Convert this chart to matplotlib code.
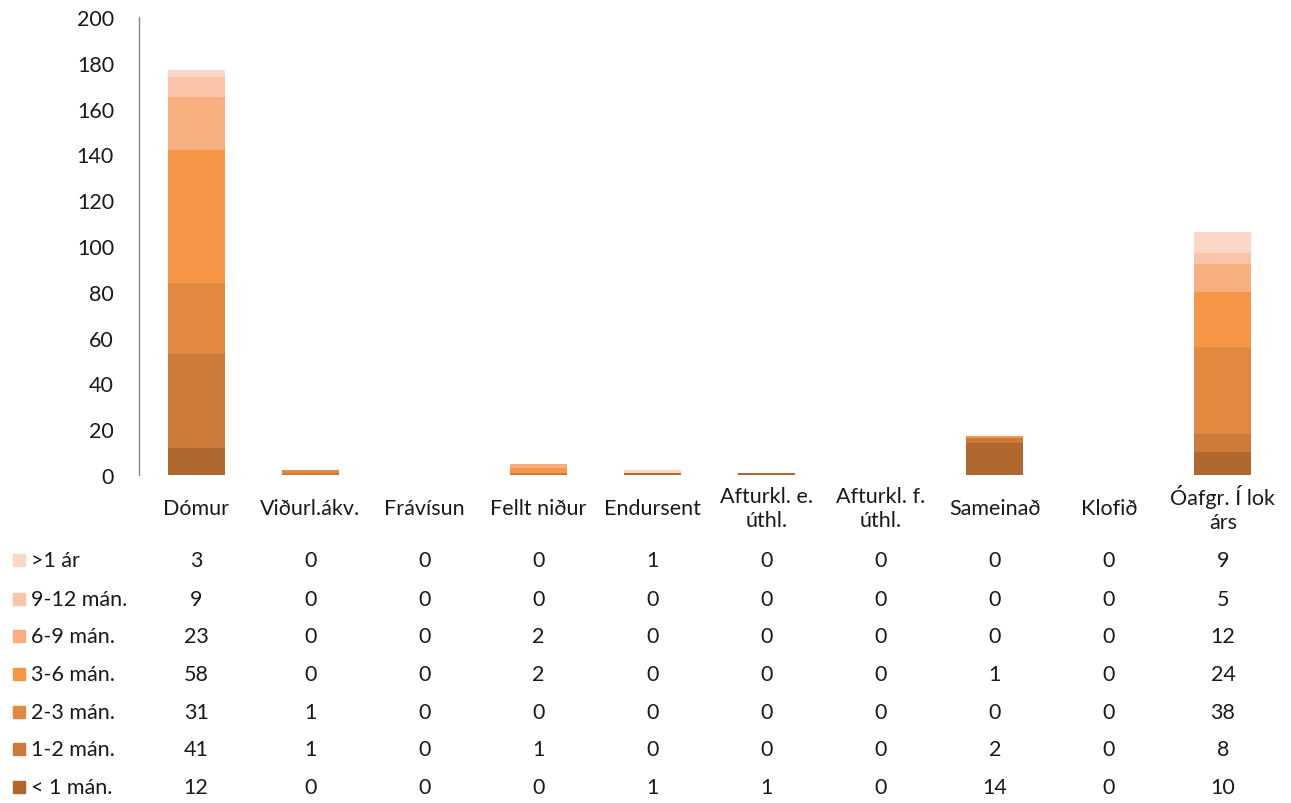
import matplotlib
matplotlib.use('Agg')
import matplotlib.pyplot as plt
import matplotlib.transforms as mtransforms
import numpy as np

plt.rcParams['font.family'] = ['Lato', 'DejaVu Sans']

categories = ['Dómur', 'Viðurl.ákv.', 'Frávísun', 'Fellt niður', 'Endursent',
              'Afturkl. e.\núthl.', 'Afturkl. f.\núthl.', 'Sameinað', 'Klofið',
              'Óafgr. Í lok\nárs']

# series from bottom of stack to top
series_names = ['< 1 mán.', '1-2 mán.', '2-3 mán.', '3-6 mán.', '6-9 mán.', '9-12 mán.', '>1 ár']
lt1 = [12, 0, 0, 0, 1, 1, 0, 14, 0, 10]
m1_2 = [41, 1, 0, 1, 0, 0, 0, 2, 0, 8]
m2_3 = [31, 1, 0, 0, 0, 0, 0, 0, 0, 38]
m3_6 = [58, 0, 0, 2, 0, 0, 0, 1, 0, 24]
m6_9 = [23, 0, 0, 2, 0, 0, 0, 0, 0, 12]
m9_12 = [9, 0, 0, 0, 0, 0, 0, 0, 0, 5]
gt1 = [3, 0, 0, 0, 1, 0, 0, 0, 0, 9]
series = [lt1, m1_2, m2_3, m3_6, m6_9, m9_12, gt1]
colors = ['#B0682F', '#CB7A39', '#E2883F', '#F79646', '#F8AE7F', '#F9C4A8', '#FAD7C6']

W, H = 1291, 804
FS = 15.5
TXT = '#1a1a1a'
fig = plt.figure(figsize=(W / 100, H / 100), dpi=100)
ax = fig.add_axes([139 / W, 1 - 476 / H, (1280 - 139) / W, (476 - 18) / H])

x = np.arange(len(categories))
bottom = np.zeros(len(categories))
for vals, col, name in zip(series, colors, series_names):
    ax.bar(x, vals, width=0.5, bottom=bottom, color=col, label=name)
    bottom += np.array(vals)

ax.set_xlim(-0.5, len(categories) - 0.5)
ax.set_ylim(0, 200)
ax.set_yticks(np.arange(0, 201, 20))
ax.tick_params(axis='y', length=0, pad=18, labelsize=FS, colors=TXT)
ax.set_xticks([])
for s in ['top', 'right', 'bottom']:
    ax.spines[s].set_visible(False)
ax.spines['left'].set_color('#888888')
ax.spines['left'].set_linewidth(1)

# category labels and data table
trans = mtransforms.blended_transform_factory(ax.transData, fig.transFigure)
for i, c in enumerate(categories):
    ax.text(i, 1 - 509 / H, c, transform=trans, ha='center', va='center',
            fontsize=FS, color=TXT, linespacing=1.2)

row_y = [788, 750, 713, 675, 637, 600, 561]
for vals, col, name, yy in zip(series, colors, series_names, row_y):
    yf = 1 - yy / H
    fig.patches.append(plt.Rectangle((13 / W, yf - 6 / H), 12 / W, 12 / H,
                                     transform=fig.transFigure, color=col))
    fig.text(31 / W, yf, name, ha='left', va='center', fontsize=FS, color=TXT)
    for i, v in enumerate(vals):
        ax.text(i, yf, str(v), transform=trans, ha='center', va='center',
                fontsize=FS, color=TXT)

fig.savefig('out.png', dpi=100)
